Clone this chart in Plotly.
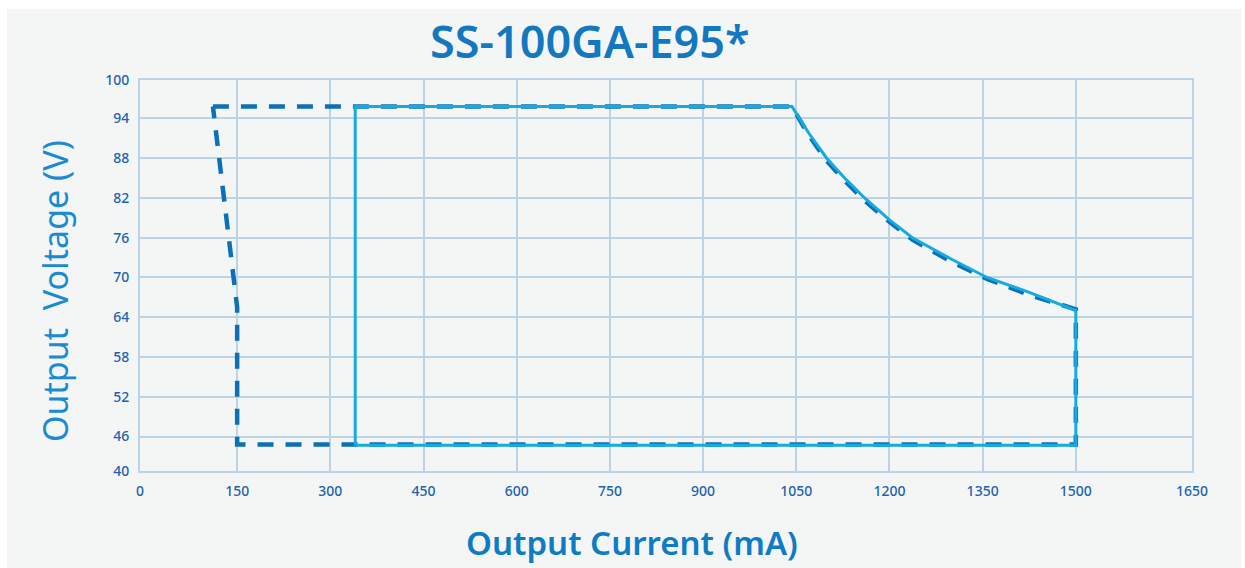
import plotly.graph_objects as go

# ---- data ----
solid_current = [340, 340, 1043, 1070, 1099, 1130, 1160, 1200, 1237, 1297, 1357, 1424, 1500, 1500, 340]
solid_voltage = [44.7, 95.8, 95.8, 91.8, 88.0, 84.8, 82.0, 78.7, 76.0, 72.9, 70.0, 67.8, 65.0, 44.7, 44.7]

dashed_current = [111, 1043, 1070, 1099, 1130, 1160, 1200, 1237, 1297, 1357, 1424, 1500, 1500, 150, 150, 111]
dashed_voltage = [95.8, 95.8, 91.5, 87.6, 84.4, 81.6, 78.4, 75.7, 72.5, 69.8, 67.4, 65.2, 44.8, 44.8, 65.5, 95.8]

x_tick_labels = ["0", "150", "300", "450", "600", "750", "900", "1050", "1200", "1350", "1500", "1650"]
x_tick_values = [-6.4, 150, 300, 450, 600, 750, 900, 1050, 1200, 1350, 1500, 1687]
y_tick_labels = ["40", "46", "52", "58", "64", "70", "76", "82", "88", "94", "100"]
y_tick_values = [40.8, 46, 52, 58, 64, 70, 76, 82, 88, 94, 99.8]

title_text = "SS-100GA-E95*"
x_title = "Output Current (mA)"
y_title = "Output  Voltage (V)"

# ---- styles ----
GRID = "#bcd3e6"
TICK = "#1d63ad"
CARD = "#f4f6f6"
FONT = "Noto Sans"

fig = go.Figure()
fig.add_trace(go.Scatter(x=dashed_current, y=dashed_voltage, mode="lines",
                         line=dict(color="#0b70b8", width=4.5, dash="16px,12px"),
                         hoverinfo="skip", showlegend=False))
fig.add_trace(go.Scatter(x=solid_current, y=solid_voltage, mode="lines",
                         line=dict(color="#14aae2", width=3),
                         hoverinfo="skip", showlegend=False))

W, H = 1245, 568
ml, mr, mt, mb = 140, 53, 80, 97
pw, ph = W - ml - mr, H - mt - mb

def px_to_paper_x(px):
    return (px - ml) / pw

def px_to_paper_y(py):
    return (H - mb - py) / ph

fig.add_shape(type="rect", xref="paper", yref="paper",
              x0=px_to_paper_x(7), x1=px_to_paper_x(1241),
              y0=px_to_paper_y(572), y1=px_to_paper_y(9),
              fillcolor=CARD, line=dict(width=0), layer="below")

fig.add_annotation(text=title_text, xref="paper", yref="paper",
                   x=px_to_paper_x(590), y=px_to_paper_y(41),
                   showarrow=False, xanchor="center", yanchor="middle",
                   font=dict(family=FONT, size=45, color="#1478c0", weight=600))
fig.add_annotation(text=x_title, xref="paper", yref="paper",
                   x=px_to_paper_x(632), y=px_to_paper_y(542),
                   showarrow=False, xanchor="center", yanchor="middle",
                   font=dict(family=FONT, size=33, color="#0d7cc4", weight=600))
fig.add_annotation(text=y_title, xref="paper", yref="paper",
                   x=px_to_paper_x(55), y=px_to_paper_y(291),
                   showarrow=False, xanchor="center", yanchor="middle", textangle=-90,
                   font=dict(family=FONT, size=34, color="#1a8ad2"))

fig.update_layout(
    width=W, height=H,
    margin=dict(l=ml, r=mr, t=mt, b=mb),
    paper_bgcolor="white",
    plot_bgcolor=CARD,
    font=dict(family=FONT, size=14, color=TICK),
    xaxis=dict(range=[-6.4, 1687], tickvals=x_tick_values, ticktext=x_tick_labels,
               showgrid=True, gridcolor=GRID, gridwidth=1.5, zeroline=False,
               showline=True, linecolor=GRID, linewidth=2, mirror=True,
               ticks="", ticklabelstandoff=6,
               tickfont=dict(family=FONT, size=14, color=TICK, weight=500)),
    yaxis=dict(range=[40.8, 99.8], tickvals=y_tick_values, ticktext=y_tick_labels,
               showgrid=True, gridcolor=GRID, gridwidth=1.5, zeroline=False,
               showline=True, linecolor=GRID, linewidth=2, mirror=True,
               ticks="", ticklabelstandoff=6,
               tickfont=dict(family=FONT, size=14, color=TICK, weight=500)),
)

fig.write_html("out.html", config={"displayModeBar": False},
               post_script="document.body.style.margin='0';document.body.style.overflow='hidden';")
